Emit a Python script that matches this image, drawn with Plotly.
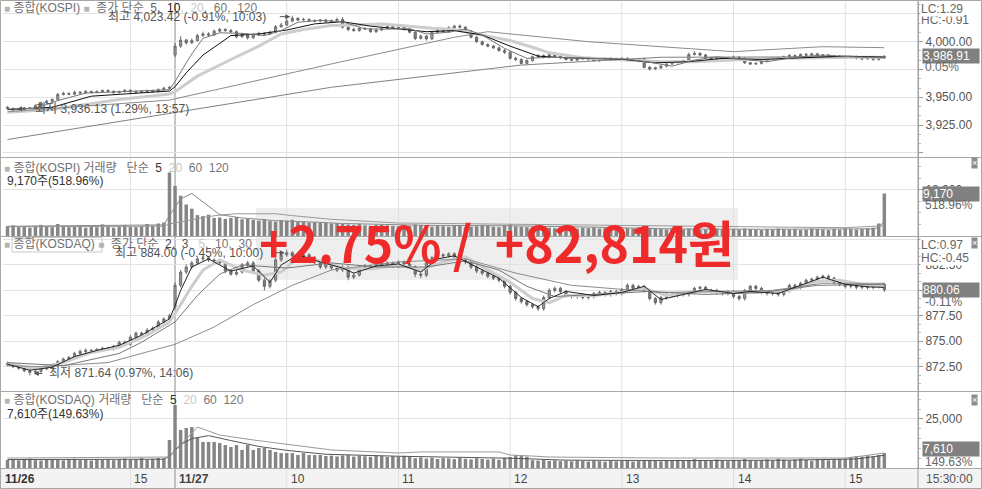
import plotly.graph_objects as go

W, H = 982, 489
FONT = "Liberation Sans, Noto Sans CJK KR, sans-serif"

# ---------------- time axis (3-minute bars) ----------------
def session(date, start, end):
    out, t = [], start[0] * 60 + start[1]
    while t <= end[0] * 60 + end[1]:
        out.append(f"{date} {t // 60:02d}:{t % 60:02d}")
        t += 3
    out.append(f"{date} 15:30")
    return out

times = session("11/26", (13, 54), (15, 18)) + session("11/27", (9, 0), (15, 18))
X = list(range(len(times)))
hour_marks = ["11/26 15:00", "11/27 09:00", "11/27 10:00", "11/27 11:00", "11/27 12:00",
              "11/27 13:00", "11/27 14:00", "11/27 15:00"]
hour_labels = ["15", "<b>11/27</b>", "10", "11", "12", "13", "14", "15"]
first_label = "<b>11/26</b>"
last_label = "15:30:00"

# ---------------- KOSPI ----------------
kospi_open = [
    3941.0, 3940.0, 3937.5, 3939.0, 3940.5, 3940.0, 3942.5, 3945.0, 3946.5, 3948.0,
    3952.5, 3953.5, 3952.8, 3954.6, 3954.0, 3955.2, 3954.3, 3955.0, 3956.1, 3955.4,
    3954.2, 3955.1, 3956.3, 3955.0, 3954.6, 3955.3, 3956.0, 3955.2, 3957.0, 3958.1,
    3988.0, 3996.0, 4001.5, 3999.0, 4001.0, 4005.5, 4007.0, 4006.0, 4009.5, 4011.0,
    4010.0, 4009.0, 4004.5, 4006.5, 4003.5, 4006.0, 4007.5, 4006.8, 4008.5, 4013.5,
    4015.0, 4018.5, 4021.0, 4019.5, 4020.0, 4019.0, 4018.5, 4019.5, 4018.0, 4019.0,
    4020.0, 4013.0, 4011.0, 4010.0, 4012.0, 4011.5, 4009.0, 4010.5, 4012.0, 4013.5,
    4012.5, 4013.0, 4011.0, 4008.5, 4003.0, 4005.0, 4002.5, 4008.5, 4010.5, 4009.0,
    4012.5, 4014.0, 4013.0, 4009.5, 4004.0, 4000.0, 3997.5, 3996.0, 3994.5, 3992.0,
    3990.5, 3985.0, 3984.0, 3980.5, 3983.0, 3986.5, 3987.5, 3986.0, 3988.5, 3987.0,
    3985.5, 3984.0, 3983.5, 3984.5, 3985.5, 3984.0, 3983.0, 3984.5, 3985.0, 3983.5,
    3984.5, 3985.0, 3984.0, 3983.5, 3984.5, 3977.0, 3975.5, 3976.5, 3978.0, 3980.0,
    3981.5, 3982.0, 3983.0, 3988.5, 3989.5, 3988.0, 3985.5, 3984.5, 3985.0, 3984.0,
    3985.5, 3986.0, 3985.0, 3981.0, 3980.0, 3980.5, 3982.5, 3984.5, 3985.0, 3985.5,
    3986.5, 3987.5, 3986.0, 3988.5, 3988.0, 3989.0, 3987.5, 3988.0, 3986.5, 3987.0,
    3985.5, 3986.0, 3986.5, 3985.0, 3984.5, 3985.5, 3984.0, 3985.5]
kospi_high = [
    3942.0, 3940.8, 3940.0, 3941.5, 3941.3, 3943.5, 3946.0, 3947.8, 3949.0, 3954.0,
    3955.0, 3954.3, 3956.0, 3955.5, 3956.5, 3956.0, 3956.2, 3957.0, 3957.2, 3956.0,
    3956.0, 3957.5, 3957.0, 3956.0, 3956.5, 3957.0, 3956.8, 3958.0, 3959.5, 3960.0,
    3999.0, 4005.0, 4002.5, 4003.0, 4007.0, 4009.0, 4008.5, 4011.0, 4012.5, 4012.0,
    4011.5, 4010.0, 4008.0, 4007.5, 4007.5, 4009.0, 4008.5, 4010.0, 4015.0, 4017.0,
    4020.5, 4023.42, 4022.0, 4021.5, 4021.0, 4020.0, 4020.5, 4020.5, 4020.0, 4021.5,
    4022.0, 4014.0, 4012.5, 4013.5, 4013.0, 4012.5, 4012.0, 4013.5, 4015.0, 4014.5,
    4014.5, 4014.0, 4012.0, 4009.5, 4006.5, 4006.0, 4009.5, 4011.5, 4012.0, 4014.0,
    4015.0, 4015.5, 4014.0, 4010.5, 4005.0, 4001.0, 3998.5, 3997.0, 3995.5, 3993.5,
    3991.5, 3986.5, 3985.0, 3984.0, 3987.5, 3989.0, 3988.5, 3990.0, 3989.5, 3988.0,
    3986.5, 3985.0, 3985.5, 3986.5, 3986.5, 3985.0, 3985.5, 3986.0, 3986.0, 3985.5,
    3986.0, 3986.0, 3985.0, 3985.5, 3985.5, 3978.0, 3977.5, 3979.0, 3981.0, 3982.5,
    3983.0, 3984.0, 3990.0, 3991.5, 3990.5, 3989.0, 3986.5, 3986.0, 3986.0, 3986.5,
    3987.5, 3987.0, 3986.0, 3982.0, 3981.5, 3983.5, 3985.5, 3986.0, 3986.5, 3987.5,
    3989.0, 3988.5, 3989.5, 3990.0, 3990.0, 3990.0, 3989.0, 3989.0, 3988.0, 3988.0,
    3987.0, 3987.5, 3987.5, 3986.0, 3986.5, 3986.5, 3986.5, 3987.8]
kospi_low = [
    3939.0, 3936.13, 3936.8, 3938.0, 3939.0, 3939.2, 3941.5, 3944.0, 3945.5, 3947.0,
    3951.5, 3951.8, 3952.0, 3953.0, 3953.2, 3953.5, 3953.5, 3954.2, 3954.5, 3953.2,
    3953.5, 3954.2, 3954.0, 3953.5, 3953.8, 3954.5, 3954.2, 3954.5, 3956.0, 3957.0,
    3986.0, 3994.5, 3997.5, 3998.0, 4000.0, 4004.5, 4005.0, 4005.0, 4008.5, 4009.0,
    4008.0, 4003.0, 4003.5, 4002.0, 4002.5, 4005.0, 4005.8, 4006.0, 4007.5, 4012.5,
    4014.0, 4017.5, 4018.5, 4018.8, 4018.0, 4017.5, 4017.5, 4017.0, 4017.0, 4018.0,
    4012.0, 4009.5, 4009.0, 4009.0, 4010.5, 4008.0, 4008.0, 4009.5, 4011.0, 4011.5,
    4011.5, 4010.0, 4007.5, 4001.5, 4002.0, 4001.0, 4001.5, 4007.5, 4008.0, 4008.0,
    4011.5, 4012.0, 4008.5, 4003.0, 3999.0, 3996.5, 3995.0, 3993.5, 3991.0, 3989.0,
    3984.0, 3982.5, 3979.5, 3979.5, 3982.0, 3985.5, 3985.0, 3985.0, 3986.0, 3984.5,
    3983.0, 3982.5, 3982.5, 3983.5, 3983.0, 3982.0, 3982.0, 3983.5, 3982.5, 3982.5,
    3983.5, 3983.0, 3982.5, 3982.5, 3976.0, 3974.0, 3974.5, 3975.5, 3977.0, 3979.0,
    3980.5, 3981.0, 3982.0, 3987.5, 3987.0, 3984.5, 3983.5, 3983.5, 3983.0, 3983.0,
    3984.5, 3984.0, 3980.0, 3979.0, 3979.0, 3979.5, 3981.5, 3983.5, 3984.0, 3984.5,
    3985.5, 3985.0, 3985.0, 3987.0, 3987.0, 3986.5, 3986.5, 3985.5, 3985.5, 3984.5,
    3984.5, 3985.0, 3984.0, 3983.5, 3983.5, 3983.0, 3983.0, 3984.5]
kospi_close = [
    3940.2, 3937.5, 3939.0, 3940.5, 3940.0, 3942.5, 3945.0, 3946.5, 3948.0, 3952.5,
    3953.5, 3952.8, 3954.6, 3954.0, 3955.2, 3954.3, 3955.0, 3956.1, 3955.4, 3954.2,
    3955.1, 3956.3, 3955.0, 3954.6, 3955.3, 3956.0, 3955.2, 3957.0, 3958.1, 3958.9,
    3996.0, 4001.5, 3999.0, 4001.0, 4005.5, 4007.0, 4006.0, 4009.5, 4011.0, 4010.0,
    4009.0, 4004.5, 4006.5, 4003.5, 4006.0, 4007.5, 4006.8, 4008.5, 4013.5, 4015.0,
    4018.5, 4021.0, 4019.5, 4020.0, 4019.0, 4018.5, 4019.5, 4018.0, 4019.0, 4020.0,
    4013.0, 4011.0, 4010.0, 4012.0, 4011.5, 4009.0, 4010.5, 4012.0, 4013.5, 4012.5,
    4013.0, 4011.0, 4008.5, 4003.0, 4005.0, 4002.5, 4008.5, 4010.5, 4009.0, 4012.5,
    4014.0, 4013.0, 4009.5, 4004.0, 4000.0, 3997.5, 3996.0, 3994.5, 3992.0, 3990.5,
    3985.0, 3984.0, 3980.5, 3983.0, 3986.5, 3987.5, 3986.0, 3988.5, 3987.0, 3985.5,
    3984.0, 3983.5, 3984.5, 3985.5, 3984.0, 3983.0, 3984.5, 3985.0, 3983.5, 3984.5,
    3985.0, 3984.0, 3983.5, 3984.5, 3977.0, 3975.5, 3976.5, 3978.0, 3980.0, 3981.5,
    3982.0, 3983.0, 3988.5, 3989.5, 3988.0, 3985.5, 3984.5, 3985.0, 3984.0, 3985.5,
    3986.0, 3985.0, 3981.0, 3980.0, 3980.5, 3982.5, 3984.5, 3985.0, 3985.5, 3986.5,
    3987.5, 3986.0, 3988.5, 3988.0, 3989.0, 3987.5, 3988.0, 3986.5, 3987.0, 3985.5,
    3986.0, 3986.5, 3985.0, 3984.5, 3985.5, 3984.0, 3985.5, 3986.91]
kospi_vol = [
    2100, 2300, 1900, 2000, 1800, 2200, 2400, 2000, 1900, 2600,
    2200, 1900, 2000, 2300, 1800, 2100, 1900, 2500, 2000, 1800,
    2100, 2400, 2000, 1900, 2200, 2600, 2300, 2700, 2900, 13700,
    10800, 8700, 6800, 5900, 4500, 4300, 4600, 3900, 4000, 3700,
    3900, 4100, 3600, 3800, 3500, 3300, 3600, 3200, 3100, 3400,
    3300, 3500, 3000, 3100, 2900, 3000, 2800, 2900, 2700, 2800,
    2600, 2500, 2400, 2600, 2300, 2200, 2400, 2500, 2300, 2200,
    2100, 2300, 2200, 2500, 2400, 2100, 2000, 2200, 2100, 2000,
    2300, 2200, 1900, 2000, 2100, 2400, 2200, 2000, 1900, 2300,
    2500, 2100, 2000, 1900, 1800, 2000, 1900, 1800, 1700, 1900,
    1800, 1700, 1600, 1800, 1700, 1900, 1600, 1700, 1800, 1600,
    1500, 1700, 1600, 1900, 1800, 1700, 1600, 1500, 1400, 1600,
    1500, 1400, 1600, 1500, 1300, 1400, 1500, 1600, 1400, 1300,
    1500, 1400, 1600, 1500, 1400, 1300, 1500, 1400, 1600, 1500,
    1400, 1500, 1300, 1400, 1600, 1500, 1400, 1300, 1500, 1400,
    1600, 1500, 1400, 1500, 1700, 1800, 2700, 9170]

# moving averages (bar index, value)
kospi_ma_periods = ["5", "10", "20", "60", "120"]
kospi_ma5_i = [0, 5, 9, 14, 22, 29, 30, 31, 32, 33, 35, 38, 42, 46, 49, 52, 56, 60, 64, 68, 72, 75, 79,
               82, 85, 89, 93, 97, 101, 106, 111, 115, 119, 123, 127, 132, 136, 141, 146, 151, 157]
kospi_ma5_v = [3939.5, 3940.0, 3947.0, 3953.8, 3955.4, 3956.8, 3964.2, 3973.0, 3981.0, 3989.0, 4003.0,
               4008.0, 4007.5, 4005.5, 4010.0, 4017.5, 4019.2, 4017.8, 4011.5, 4011.3, 4011.7, 4007.0,
               4008.5, 4011.5, 4006.0, 3994.0, 3985.0, 3986.0, 3985.5, 3984.2, 3984.2, 3981.5, 3978.0,
               3983.5, 3986.5, 3984.0, 3982.0, 3986.0, 3988.0, 3986.5, 3985.5]
kospi_ma10_i = [0, 8, 15, 29, 30, 32, 35, 40, 45, 50, 55, 60, 65, 70, 75, 80, 85, 90, 95, 100, 110,
                116, 122, 128, 135, 142, 150, 157]
kospi_ma10_v = [3939.0, 3941.0, 3951.0, 3955.6, 3959.5, 3972.0, 3988.0, 4005.5, 4007.0, 4010.5, 4016.0,
                4018.0, 4014.0, 4011.5, 4009.0, 4010.0, 4006.0, 3996.0, 3987.0, 3985.5, 3984.2, 3981.0,
                3982.0, 3985.0, 3984.0, 3985.5, 3987.0, 3986.0]
kospi_ma20_i = [0, 8, 20, 29, 30, 34, 40, 45, 49, 53, 58, 63, 67, 72, 76, 80, 83, 87, 90, 94, 97, 103,
                110, 117, 123, 132, 141, 150, 157]
kospi_ma20_v = [3936.5, 3939.0, 3948.0, 3953.0, 3955.0, 3969.0, 3984.0, 3996.0, 4007.0, 4011.0, 4014.5,
                4015.5, 4016.0, 4014.0, 4012.0, 4011.0, 4008.0, 4004.0, 4001.0, 3995.0, 3990.0, 3985.5,
                3983.5, 3982.0, 3982.0, 3984.0, 3985.0, 3986.0, 3986.0]
kospi_ma60_i = [0, 29, 58, 80, 86, 104, 117, 130, 135, 146, 157]
kospi_ma60_v = [3937.0, 3947.5, 3980.0, 4004.0, 4009.0, 4000.0, 3995.5, 3991.0, 3992.5, 3995.5, 3994.6]
kospi_ma120_i = [0, 58, 92, 117, 157]
kospi_ma120_v = [3912.0, 3959.0, 3979.0, 3986.0, 3986.5]
kospi_vma5_i = [0, 28, 29, 30, 31, 33, 35, 38, 42, 48, 55, 60, 75, 90, 105, 120, 135, 150, 155, 156, 157]
kospi_vma5_v = [2100, 2400, 4400, 6300, 8000, 9180, 7400, 4600, 3900, 3300, 3000, 2700, 2300, 2200,
                1900, 1500, 1450, 1450, 1550, 1800, 3200]
kospi_vma20_i = [0, 28, 29, 31, 33, 36, 38, 41, 44, 48, 51, 58, 70, 90, 117, 140, 150, 157]
kospi_vma20_v = [2000, 2100, 2600, 3100, 3600, 4200, 4500, 4800, 4800, 4800, 4400, 3600, 2800, 2500,
                 2200, 1900, 1800, 2200]

# ---------------- KOSDAQ ----------------
kosdaq_open = [
    872.80, 872.70, 872.50, 872.35, 872.10, 871.95, 872.05, 872.30, 872.45, 872.60,
    873.00, 873.25, 873.40, 873.80, 874.00, 874.10, 874.05, 874.20, 874.30, 874.25,
    874.50, 874.90, 874.70, 875.40, 875.80, 875.70, 876.10, 876.30, 876.90, 877.20,
    878.40, 880.50, 881.80, 882.30, 882.70, 883.10, 883.20, 883.00, 882.90, 882.70,
    881.90, 881.60, 881.80, 882.50, 882.70, 881.90, 881.00, 880.40, 881.00, 883.00,
    883.50, 883.70, 883.40, 883.30, 883.50, 883.20, 882.80, 882.30, 882.60, 882.20,
    882.00, 882.30, 881.30, 881.50, 882.20, 882.40, 882.30, 882.50, 882.60, 882.70,
    882.40, 882.80, 882.60, 882.30, 881.60, 881.50, 882.70, 883.20, 883.50, 883.40,
    883.60, 883.30, 883.00, 882.80, 882.30, 881.90, 881.70, 881.40, 881.20, 881.00,
    880.40, 879.80, 879.20, 878.90, 878.60, 878.40, 878.20, 879.30, 880.00, 880.20,
    879.90, 879.50, 879.40, 879.50, 879.30, 879.40, 879.70, 879.80, 879.60, 879.90,
    879.70, 880.10, 880.50, 880.20, 880.40, 880.00, 879.20, 878.80, 879.30, 879.60,
    879.50, 879.70, 879.60, 879.80, 880.20, 880.30, 879.90, 880.00, 879.80, 879.70,
    879.90, 879.40, 879.20, 880.00, 880.40, 880.20, 879.80, 879.70, 879.80, 879.60,
    880.00, 880.50, 880.30, 880.70, 881.00, 881.10, 881.30, 881.40, 881.20, 880.80,
    880.60, 880.40, 880.50, 880.30, 880.40, 880.30, 880.50, 880.60]
kosdaq_high = [
    873.00, 872.85, 872.65, 872.50, 872.25, 872.20, 872.45, 872.60, 872.75, 873.15,
    873.40, 873.55, 873.95, 874.20, 874.30, 874.25, 874.35, 874.45, 874.45, 874.65,
    875.05, 875.05, 875.60, 875.95, 875.95, 876.30, 876.45, 877.10, 877.35, 877.70,
    880.80, 882.00, 882.55, 882.90, 883.30, 883.40, 883.35, 883.15, 883.05, 882.85,
    882.10, 882.00, 882.70, 882.90, 882.90, 882.10, 881.20, 881.10, 883.20, 883.70,
    884.00, 883.85, 883.55, 883.65, 883.65, 883.35, 882.95, 882.80, 882.75, 882.35,
    882.50, 882.45, 881.70, 882.40, 882.60, 882.55, 882.65, 882.75, 882.85, 882.85,
    882.95, 882.95, 882.75, 882.45, 881.75, 882.90, 883.40, 883.70, 883.65, 883.75,
    883.75, 883.45, 883.15, 882.95, 882.45, 882.05, 881.85, 881.55, 881.35, 881.15,
    880.55, 879.95, 879.35, 879.05, 878.75, 878.55, 879.50, 880.20, 880.40, 880.35,
    880.05, 879.65, 879.65, 879.65, 879.55, 879.85, 879.95, 879.95, 880.05, 880.05,
    880.25, 880.70, 880.65, 880.55, 880.55, 880.15, 879.35, 879.45, 879.75, 879.75,
    879.85, 879.85, 879.95, 880.35, 880.45, 880.45, 880.15, 880.15, 879.95, 880.05,
    880.05, 879.55, 880.15, 880.55, 880.55, 880.35, 879.95, 879.95, 879.95, 880.15,
    880.65, 880.65, 880.85, 881.15, 881.25, 881.45, 881.55, 881.55, 881.35, 880.95,
    880.75, 880.65, 880.65, 880.55, 880.55, 880.65, 880.65, 880.75]
kosdaq_low = [
    872.55, 872.35, 872.20, 871.95, 871.64, 871.80, 871.90, 872.15, 872.30, 872.45,
    872.85, 873.10, 873.25, 873.65, 873.85, 873.90, 873.90, 874.05, 874.10, 874.10,
    874.35, 874.55, 874.55, 875.25, 875.55, 875.55, 875.95, 876.15, 876.75, 877.05,
    878.10, 880.30, 881.60, 882.10, 882.55, 882.90, 882.80, 882.75, 882.55, 881.70,
    881.45, 881.45, 881.65, 882.30, 881.70, 880.80, 880.00, 880.20, 880.80, 882.80,
    883.30, 883.20, 883.10, 883.15, 883.00, 882.60, 882.10, 882.10, 882.00, 881.80,
    881.80, 881.00, 881.10, 881.35, 882.00, 882.10, 882.10, 882.35, 882.45, 882.20,
    882.20, 882.40, 882.10, 881.30, 881.20, 881.30, 882.50, 883.00, 883.20, 883.25,
    883.10, 882.80, 882.60, 882.10, 881.70, 881.50, 881.20, 881.00, 880.80, 880.20,
    879.60, 879.00, 878.70, 878.40, 878.20, 878.00, 878.00, 879.10, 879.80, 879.70,
    879.30, 879.20, 879.20, 879.10, 879.10, 879.20, 879.50, 879.40, 879.40, 879.50,
    879.50, 879.90, 880.00, 880.00, 879.80, 879.00, 878.60, 878.60, 879.10, 879.30,
    879.30, 879.40, 879.40, 879.60, 880.00, 879.70, 879.70, 879.60, 879.50, 879.50,
    879.20, 879.00, 879.00, 879.80, 880.00, 879.60, 879.50, 879.50, 879.40, 879.40,
    879.80, 880.10, 880.10, 880.50, 880.80, 880.90, 881.10, 881.00, 880.60, 880.40,
    880.20, 880.20, 880.10, 880.10, 880.10, 880.10, 880.20, 879.85]
kosdaq_close = [
    872.70, 872.50, 872.35, 872.10, 871.95, 872.05, 872.30, 872.45, 872.60, 873.00,
    873.25, 873.40, 873.80, 874.00, 874.10, 874.05, 874.20, 874.30, 874.25, 874.50,
    874.90, 874.70, 875.40, 875.80, 875.70, 876.10, 876.30, 876.90, 877.20, 877.50,
    880.50, 881.80, 882.30, 882.70, 883.10, 883.20, 883.00, 882.90, 882.70, 881.90,
    881.60, 881.80, 882.50, 882.70, 881.90, 881.00, 880.40, 880.90, 883.00, 883.50,
    883.70, 883.40, 883.30, 883.50, 883.20, 882.80, 882.30, 882.60, 882.20, 882.00,
    882.30, 881.30, 881.50, 882.20, 882.40, 882.30, 882.50, 882.60, 882.70, 882.40,
    882.80, 882.60, 882.30, 881.60, 881.50, 882.70, 883.20, 883.50, 883.40, 883.60,
    883.30, 883.00, 882.80, 882.30, 881.90, 881.70, 881.40, 881.20, 881.00, 880.40,
    879.80, 879.20, 878.90, 878.60, 878.40, 878.20, 879.30, 880.00, 880.20, 879.90,
    879.50, 879.40, 879.50, 879.30, 879.40, 879.70, 879.80, 879.60, 879.90, 879.70,
    880.10, 880.50, 880.20, 880.40, 880.00, 879.20, 878.80, 879.30, 879.60, 879.50,
    879.70, 879.60, 879.80, 880.20, 880.30, 879.90, 880.00, 879.80, 879.70, 879.90,
    879.40, 879.20, 880.00, 880.40, 880.20, 879.80, 879.70, 879.80, 879.60, 880.00,
    880.50, 880.30, 880.70, 881.00, 881.10, 881.30, 881.40, 881.20, 880.80, 880.60,
    880.40, 880.50, 880.30, 880.40, 880.30, 880.50, 880.40, 880.06]
kosdaq_vol = [
    4100, 4600, 3900, 4300, 4800, 4000, 3800, 4200, 4500, 4100,
    3900, 4400, 4700, 4000, 4200, 3800, 4300, 4100, 4600, 4000,
    4400, 4800, 4200, 4500, 5000, 4300, 4700, 5100, 4900, 14300,
    32100, 19400, 20400, 20900, 15300, 13300, 13300, 13300, 12700, 11700,
    10700, 11700, 9200, 11700, 9200, 10200, 10200, 9200, 8200, 7600,
    7600, 7600, 6600, 7600, 6600, 6600, 6600, 6100, 6300, 5900,
    6400, 6600, 5800, 6200, 6000, 5700, 6300, 6100, 5600, 6000,
    5800, 6200, 5600, 5000, 5400, 4800, 5200, 4600, 5100, 4900,
    4500, 5300, 4700, 4400, 5000, 4600, 4300, 4800, 4200, 5200,
    5600, 6600, 6300, 5800, 4000, 3800, 4100, 3600, 3900, 3500,
    3700, 3400, 3900, 3600, 3300, 3800, 3500, 3200, 3700, 3400,
    3600, 3900, 3300, 3500, 3800, 4000, 3600, 3400, 3700, 3900,
    4200, 3500, 3800, 4500, 4000, 3600, 3900, 4300, 3700, 3500,
    4100, 3800, 4600, 3900, 3600, 4000, 4400, 3800, 4700, 4200,
    3900, 4300, 4800, 4100, 3700, 4500, 4200, 3900, 4400, 4600,
    4800, 5600, 6100, 5800, 6400, 6000, 6600, 7610]

kosdaq_ma_periods = ["2", "3", "5", "10", "30"]
kosdaq_ma3_i = [0, 4, 8, 12, 16, 20, 24, 29, 30, 31, 33, 36, 40, 44, 47, 49, 52, 56, 60, 62, 66, 70, 74,
                77, 80, 84, 88, 92, 95, 97, 100, 105, 110, 114, 117, 121, 125, 130, 133, 138, 142, 146,
                150, 154, 157]
kosdaq_ma3_v = [872.75, 872.15, 872.45, 873.5, 874.1, 874.6, 875.6, 877.2, 878.5, 880.0, 882.3, 883.1,
                881.9, 882.4, 880.8, 882.5, 883.5, 882.8, 882.2, 881.7, 882.4, 882.6, 881.8, 883.1,
                883.4, 882.3, 881.2, 879.3, 878.4, 879.2, 879.9, 879.5, 879.8, 880.4, 879.1, 879.6,
                880.1, 879.7, 879.9, 879.7, 880.5, 881.3, 880.6, 880.35, 880.3]
kosdaq_ma5_i = [0, 5, 10, 15, 20, 25, 29, 30, 31, 33, 35, 38, 42, 46, 49, 52, 56, 60, 65, 70, 74, 78,
                82, 86, 90, 94, 97, 100, 105, 110, 114, 118, 124, 130, 134, 140, 145, 149, 153, 157]
kosdaq_ma5_v = [872.8, 872.3, 872.9, 873.9, 874.4, 875.6, 876.9, 877.7, 878.6, 880.4, 882.0, 883.0,
                882.0, 881.5, 881.8, 883.2, 882.9, 882.2, 882.1, 882.5, 882.0, 882.8, 883.3, 882.0,
                880.8, 879.2, 878.8, 879.5, 879.5, 879.8, 880.2, 879.5, 879.9, 879.8, 879.8, 880.0,
                880.9, 881.0, 880.6, 880.35]
kosdaq_ma10_i = [0, 10, 20, 24, 30, 34, 38, 42, 50, 58, 66, 75, 82, 88, 93, 98, 105, 115, 125, 135,
                 145, 157]
kosdaq_ma10_v = [872.9, 872.6, 873.8, 874.9, 876.9, 879.5, 881.6, 882.5, 882.2, 882.7, 882.3, 882.3,
                 882.9, 882.0, 880.4, 879.4, 879.6, 879.9, 879.6, 879.8, 880.5, 880.6]
kosdaq_ma30_i = [0, 6, 18, 30, 37, 44, 51, 58, 70, 82, 91, 101, 117, 137, 146, 157]
kosdaq_ma30_v = [872.6, 872.5, 872.9, 874.7, 876.4, 878.6, 880.5, 882.0, 882.8, 883.1, 881.7, 880.5,
                 879.8, 880.0, 880.7, 880.7]
kosdaq_vma5_i = [0, 28, 29, 34, 38, 44, 58, 70, 74, 88, 90, 94, 97, 117, 150, 153, 157]
kosdaq_vma5_v = [5100, 5600, 5600, 20900, 16800, 14300, 9200, 7650, 8200, 8200, 6600, 6100, 5600,
                 5100, 5100, 6100, 7650]
kosdaq_vma20_i = [0, 28, 29, 30, 31, 33, 36, 40, 45, 50, 57, 70, 90, 100, 120, 140, 152, 157]
kosdaq_vma20_v = [4300, 4500, 6000, 9000, 12000, 15000, 16500, 14000, 11000, 9000, 7000, 6000, 5000,
                  4000, 3800, 4000, 4600, 6500]
vol_ma_periods = ["5", "20", "60", "120"]

# text content
kospi_day_chg = "0.05%"
kosdaq_day_chg = "-0.11%"
kospi_vol_ratio = "518.96%"
kosdaq_vol_ratio = "149.63%"
headline = "+2.75% /  +82,814원"

assert all(len(a) == len(X) for a in [kospi_open, kospi_high, kospi_low, kospi_close, kospi_vol,
                                       kosdaq_open, kosdaq_high, kosdaq_low, kosdaq_close, kosdaq_vol])

# ---------------- geometry helpers ----------------
def py(y):
    return 1 - y / H

def pxx(x):
    return x / W

XD = [3 / W, 918 / W]
XR = [-0.806, 163.03]
DOM = {"y": [py(157), py(2)], "y2": [py(236), py(158)], "y3": [py(391), py(237)], "y4": [py(468), py(392)]}

fig = go.Figure()

C_INC = dict(line=dict(color="#6e6e6e", width=1), fillcolor="#9c9c9c")
C_DEC = dict(line=dict(color="#666666", width=1), fillcolor="#828282")

def line(xi, yv, xa, ya, color, width):
    fig.add_trace(go.Scatter(x=xi, y=yv, mode="lines", xaxis=xa, yaxis=ya,
                             line=dict(color=color, width=width), hoverinfo="skip", showlegend=False))

# KOSPI price panel
line(kospi_ma20_i, kospi_ma20_v, "x", "y", "#cdcdcd", 3)
line(kospi_ma120_i, kospi_ma120_v, "x", "y", "#808080", 1)
line(kospi_ma60_i, kospi_ma60_v, "x", "y", "#8c8c8c", 1)
fig.add_trace(go.Candlestick(x=X, open=kospi_open, high=kospi_high, low=kospi_low, close=kospi_close,
                             xaxis="x", yaxis="y", increasing=C_INC, decreasing=C_DEC,
                             whiskerwidth=0, showlegend=False, hoverinfo="skip"))
line(kospi_ma10_i, kospi_ma10_v, "x", "y", "#111111", 1)
line(kospi_ma5_i, kospi_ma5_v, "x", "y", "#777777", 1)

# KOSPI volume
fig.add_trace(go.Bar(x=X, y=kospi_vol, xaxis="x2", yaxis="y2", width=0.62,
                     marker=dict(color="#858585", line=dict(width=0)), showlegend=False, hoverinfo="skip"))
line(kospi_vma20_i, kospi_vma20_v, "x2", "y2", "#9a9a9a", 1)
line(kospi_vma5_i, kospi_vma5_v, "x2", "y2", "#8a8a8a", 1)

# KOSDAQ price panel
line(kosdaq_ma5_i, kosdaq_ma5_v, "x3", "y3", "#cdcdcd", 3)
line(kosdaq_ma30_i, kosdaq_ma30_v, "x3", "y3", "#8c8c8c", 1)
line(kosdaq_ma10_i, kosdaq_ma10_v, "x3", "y3", "#777777", 1)
fig.add_trace(go.Candlestick(x=X, open=kosdaq_open, high=kosdaq_high, low=kosdaq_low, close=kosdaq_close,
                             xaxis="x3", yaxis="y3", increasing=C_INC, decreasing=C_DEC,
                             whiskerwidth=0, showlegend=False, hoverinfo="skip"))
line(kosdaq_ma3_i, kosdaq_ma3_v, "x3", "y3", "#222222", 1)

# KOSDAQ volume
fig.add_trace(go.Bar(x=X, y=kosdaq_vol, xaxis="x4", yaxis="y4", width=0.62,
                     marker=dict(color="#858585", line=dict(width=0)), showlegend=False, hoverinfo="skip"))
line(kosdaq_vma20_i, kosdaq_vma20_v, "x4", "y4", "#555555", 1)
line(kosdaq_vma5_i, kosdaq_vma5_v, "x4", "y4", "#9a9a9a", 1)

# ---------------- axes ----------------
common_x = dict(domain=XD, range=XR, showgrid=False, zeroline=False, showticklabels=False,
                ticks="", showline=False, fixedrange=True, type="linear")

def yax(dom, rng, tv, tt, anchor, minor_dtick, tick0):
    return dict(domain=dom, range=rng, side="right", anchor=anchor, tickmode="array",
                tickvals=tv, ticktext=tt, showgrid=True, gridcolor="#e3e3e3", gridwidth=1,
                zeroline=False, showline=True, linecolor="#a0a0a0", linewidth=1,
                ticks="outside", ticklen=4, tickcolor="#999999",
                tickfont=dict(family=FONT, size=12, color="#555555"),
                minor=dict(ticks="outside", ticklen=2, tickcolor="#bbbbbb", tickmode="linear",
                           tick0=tick0, dtick=minor_dtick, showgrid=False),
                fixedrange=True)

kospi_ticks = [3900, 3925, 3950, 3975, 4000, 4025]
kospi_tt = ["" if v in (3900, 3975, 4025) else f"{v:,.2f}" for v in kospi_ticks]
kosdaq_ticks = [870, 872.5, 875, 877.5, 880, 882.5, 885]
kosdaq_tt = ["" if v in (870, 880, 885) else f"{v:,.2f}" for v in kosdaq_ticks]
kvol_ticks = [10000]
qvol_ticks = [25000]

fig.update_layout(
    width=W, height=H, margin=dict(l=0, r=0, t=0, b=0),
    paper_bgcolor="white", plot_bgcolor="rgba(0,0,0,0)", showlegend=False,
    boxgap=0.45, bargap=0.3, hovermode=False,
    xaxis=dict(**common_x, anchor="y", rangeslider=dict(visible=False)),
    xaxis2=dict(**common_x, anchor="y2"),
    xaxis3=dict(**common_x, anchor="y3", rangeslider=dict(visible=False)),
    xaxis4=dict(**common_x, anchor="y4"),
    yaxis=yax(DOM["y"], [3896.3, 4035.7], kospi_ticks, kospi_tt, "x", 25 / 3, 3900),
    yaxis2=yax(DOM["y2"], [0, 16830], kvol_ticks, [f"{v:,}" for v in kvol_ticks], "x2", 2500, 0),
    yaxis3=yax(DOM["y3"], [870.11, 885.25], kosdaq_ticks, kosdaq_tt, "x3", 2.5 / 3, 870),
    yaxis4=yax(DOM["y4"], [0, 38760], qvol_ticks, [f"{v:,}" for v in qvol_ticks], "x4", 5000, 0),
)

# ---------------- shapes ----------------
shapes = []
shapes.append(dict(type="rect", xref="paper", yref="paper", x0=pxx(256), x1=pxx(738), y0=py(280), y1=py(208),
                   fillcolor="#eeeeee", line=dict(width=0), layer="below"))
shapes.append(dict(type="rect", xref="paper", yref="paper", x0=0, x1=1, y0=0, y1=py(469),
                   fillcolor="#f3f3f3", line=dict(width=0), layer="below"))
for mark in hour_marks:
    i = times.index(mark)
    shapes.append(dict(type="line", xref="x", yref="paper", x0=i, x1=i, y0=0, y1=py(2),
                       line=dict(color="#8f8f8f" if mark.endswith("09:00") else "#e0e0e0", width=1),
                       layer="below"))
for yy in (157.5, 236.5, 391.5, 468.5):
    shapes.append(dict(type="line", xref="paper", yref="paper", x0=0, x1=1, y0=py(yy), y1=py(yy),
                       line=dict(color="#a8a8a8", width=1)))
shapes.append(dict(type="line", xref="paper", yref="paper", x0=pxx(918), x1=pxx(918), y0=0, y1=1,
                   line=dict(color="#a0a0a0", width=1)))
shapes.append(dict(type="rect", xref="paper", yref="paper", x0=pxx(0.5), x1=pxx(981.5), y0=py(488.5), y1=py(0.5),
                   line=dict(color="#a8a8a8", width=1)))
shapes.append(dict(type="rect", xref="paper", yref="paper", x0=pxx(12), x1=pxx(102), y0=py(252), y1=py(237.5),
                   line=dict(color="#c8c8c8", width=1)))
fig.update_layout(shapes=shapes)

# ---------------- annotations ----------------
ann = []

def note(x, y, text, size=12, color="#555555", xanchor="left", bg=None, **kw):
    d = dict(xref="paper", yref="paper", x=pxx(x), y=py(y), text=text, showarrow=False,
             xanchor=xanchor, yanchor="middle", borderpad=0,
             font=dict(family=FONT, size=size, color=color))
    if bg:
        d["bgcolor"] = bg
    d.update(kw)
    return d

SQ = "<span style='color:#b4b4b4;font-size:10px'>■</span>"
ma_cols_kospi = ["#666666", "#222222", "#c8c8c8", "#777777", "#777777"]
ma_cols_kosdaq = ["#444444", "#555555", "#c8c8c8", "#777777", "#777777"]
vol_cols = ["#333333", "#c8c8c8", "#777777", "#777777"]

def periods_comma(ps, cols):
    parts = [f"<span style='color:{cols[0]}'>{ps[0]}</span>"]
    for p, c in zip(ps[1:], cols[1:]):
        parts.append(f"<span style='color:{c}'>,  {p}</span>")
    return "".join(parts)

def periods_space(ps, cols):
    return "&nbsp;&nbsp;".join(f"<span style='color:{c}'>{p}</span>" for p, c in zip(ps, cols))

ann.append(note(3, 8, f"{SQ} 종합(KOSPI) {SQ}&nbsp;&nbsp;종가 단순&nbsp;&nbsp;" +
                periods_comma(kospi_ma_periods, ma_cols_kospi), color="#707070"))
ann.append(note(3, 168, f"{SQ} 종합(KOSPI) 거래량&nbsp;&nbsp;&nbsp;단순&nbsp;&nbsp;" +
                periods_space(vol_ma_periods, vol_cols), color="#707070"))
ann.append(note(6, 181, f"{kospi_vol[-1]:,}주({kospi_vol_ratio})", color="#333333"))
ann.append(note(3, 244, f"{SQ} 종합(KOSDAQ) {SQ}&nbsp;&nbsp;종가 단순&nbsp;&nbsp;" +
                periods_comma(kosdaq_ma_periods, ma_cols_kosdaq), color="#707070"))
ann.append(note(3, 400, f"{SQ} 종합(KOSDAQ) 거래량&nbsp;&nbsp;&nbsp;단순&nbsp;&nbsp;" +
                periods_space(vol_ma_periods, vol_cols), color="#707070"))
ann.append(note(6, 414, f"{kosdaq_vol[-1]:,}주({kosdaq_vol_ratio})", color="#333333"))

def hilo(high, low, close, xa, ya, hi_dx, hi_dy, lo_dx, lo_dy):
    last = close[-1]
    hi = max(high); hi_i = high.index(hi)
    lo = min(low); lo_i = low.index(lo)
    t_hi = times[hi_i].split()[1]; t_lo = times[lo_i].split()[1]
    out = []
    out.append(dict(xref=xa, yref=ya, x=hi_i, y=hi, text="", showarrow=True, ax=-14, ay=0,
                    arrowhead=2, arrowsize=1, arrowwidth=1, arrowcolor="#555555", standoff=2, yshift=hi_dy))
    out.append(dict(xref=xa, yref=ya, x=hi_i, y=hi, xanchor="right", yanchor="middle", showarrow=False,
                    xshift=hi_dx, yshift=hi_dy,
                    text=f"최고 {hi:,.2f} ({(last / hi - 1) * 100:.2f}%, {t_hi})",
                    font=dict(family=FONT, size=12, color="#555555")))
    out.append(dict(xref=xa, yref=ya, x=lo_i, y=lo, text="", showarrow=True, ax=14, ay=0,
                    arrowhead=2, arrowsize=1, arrowwidth=1, arrowcolor="#555555", standoff=4, yshift=lo_dy))
    out.append(dict(xref=xa, yref=ya, x=lo_i, y=lo, xanchor="left", yanchor="middle", showarrow=False,
                    xshift=lo_dx, yshift=lo_dy,
                    text=f"최저 {lo:,.2f} ({(last / lo - 1) * 100:.2f}%, {t_lo})",
                    font=dict(family=FONT, size=12, color="#555555")))
    return out, (last / lo - 1) * 100, (last / hi - 1) * 100

a1, kospi_lc, kospi_hc = hilo(kospi_high, kospi_low, kospi_close, "x", "y", -24, -1, 20, 4)
a2, kosdaq_lc, kosdaq_hc = hilo(kosdaq_high, kosdaq_low, kosdaq_close, "x3", "y3", -22, -3, 17, 2)
ann += a1 + a2

ann.append(note(920, 20, f"HC:{kospi_hc:.2f}", color="#666666", bg="white"))
ann.append(note(920, 9, f"LC:{kospi_lc:.2f}", color="#666666", bg="white"))
ann.append(note(920, 258, f"HC:{kosdaq_hc:.2f}", color="#666666", bg="white"))
ann.append(note(920, 245, f"LC:{kosdaq_lc:.2f}", color="#666666", bg="white"))

def value_box(val, ya, txt, shift=0):
    return dict(xref="paper", yref=ya, x=pxx(922), y=val, text=txt, showarrow=False, xanchor="left",
                yanchor="middle", bgcolor="#808080", width=56, align="left", borderpad=0, yshift=shift,
                font=dict(family=FONT, size=12, color="white"))

ann.append(value_box(kospi_close[-1], "y", f"{kospi_close[-1]:,.2f}"))
ann.append(note(924, 67, kospi_day_chg, color="#666666"))
ann.append(value_box(kospi_vol[-1], "y2", f"{kospi_vol[-1]:,}"))
ann.append(note(924, 205, kospi_vol_ratio, color="#666666"))
ann.append(value_box(kosdaq_close[-1], "y3", f"{kosdaq_close[-1]:,.2f}"))
ann.append(note(924, 302, kosdaq_day_chg, color="#666666"))
ann.append(note(924, 462, kosdaq_vol_ratio, color="#666666"))
ann.append(value_box(kosdaq_vol[-1], "y4", f"{kosdaq_vol[-1]:,}", shift=4))

for yy in (163, 243, 400):
    ann.append(note(971, yy, "×", size=9, color="white", bg="#8c8c8c"))

ann.append(note(4, 479, first_label, color="#333333"))
for mark, lab in zip(hour_marks, hour_labels):
    ann.append(dict(xref="x4", yref="paper", x=times.index(mark), y=py(479), text=lab, showarrow=False,
                    xanchor="left", yanchor="middle", xshift=2,
                    font=dict(family=FONT, size=12, color="#444444")))
ann.append(note(925, 479, last_label, color="#555555"))

ann.append(dict(xref="paper", yref="paper", x=pxx(496), y=py(241), text=headline,
                showarrow=False, xanchor="center", yanchor="middle",
                font=dict(family="Noto Sans CJK KR, sans-serif", size=50, color="#ee2a2a", weight=600)))

fig.update_layout(annotations=ann)
fig.write_html("out.html", config={"displayModeBar": False, "staticPlot": True},
               post_script="document.body.style.margin='0px';document.body.style.overflow='hidden';")
